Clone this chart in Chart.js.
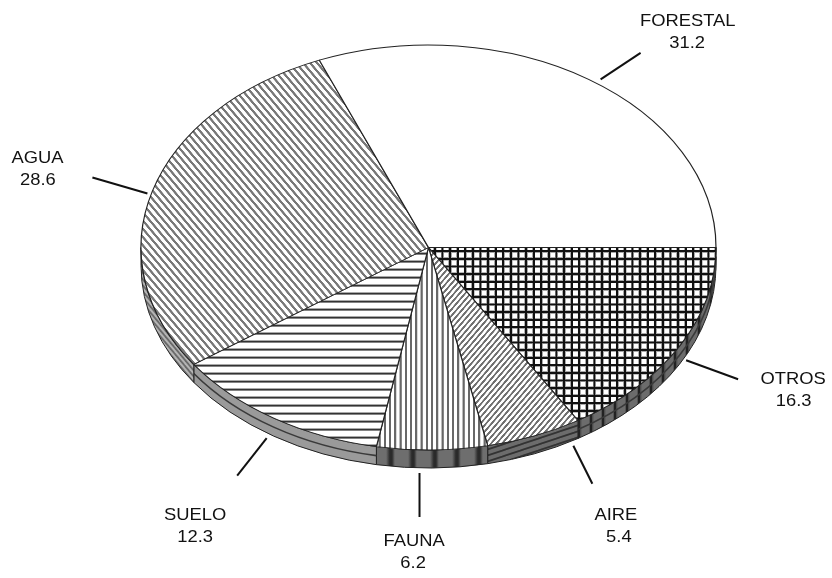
<!DOCTYPE html>
<html>
<head>
<meta charset="utf-8">
<style>html,body{margin:0;padding:0;background:#fff}canvas{display:block}</style>
<script src="https://cdn.jsdelivr.net/npm/chart.js@4"></script>
</head>
<body>
<canvas id="c" width="832" height="578"></canvas>
<script>
const categories = ['OTROS', 'AIRE', 'FAUNA', 'SUELO', 'AGUA', 'FORESTAL'];
const shares = [16.3, 5.4, 6.2, 12.3, 28.6, 31.2];

// Tilted-pie projection
const RX = 287.5, RY = 202.5, FACE_Y = 247.5, DEPTH = 18, K = RY / RX, CHART_Y = 289;

function tile(w, h, draw, m) {
  const t = document.createElement('canvas'); t.width = w; t.height = h;
  const g = t.getContext('2d'); draw(g, w, h);
  const p = g.createPattern(t, 'repeat');
  if (m) p.setTransform(m);
  return p;
}
function diag(g, w, h, col, lw, dir) {
  g.strokeStyle = col; g.lineWidth = lw;
  for (let i = -1; i <= 1; i++) {
    g.beginPath();
    if (dir > 0) { g.moveTo(i * w - w * 0.1, h * 1.1); g.lineTo(i * w + w * 1.1, -h * 0.1); }
    else { g.moveTo(i * w - w * 0.1, -h * 0.1); g.lineTo(i * w + w * 1.1, h * 1.1); }
    g.stroke();
  }
}
const faceFills = [
  tile(32, 32, (g) => {
    g.fillStyle = '#fff'; g.fillRect(0, 0, 32, 32);
    g.fillStyle = '#a8a8a8'; g.fillRect(0, 0, 14, 32); g.fillRect(0, 0, 32, 14);
    g.fillStyle = '#111'; g.fillRect(3, 0, 8, 32); g.fillRect(0, 3, 32, 8);
    g.fillStyle = '#fff'; g.fillRect(16, 16, 14, 14);
  }, new DOMMatrix().scale(7.6 / 32, 7.6 / 32 / K).translate(0, 2)),
  tile(24, 28, (g, w, h) => {
    g.fillStyle = '#fff'; g.fillRect(0, 0, w, h); diag(g, w, h, '#707070', 8, 1);
  }, new DOMMatrix().scale(0.23, 0.23 / K)),
  tile(21, 4, (g, w, h) => {
    g.fillStyle = '#fff'; g.fillRect(0, 0, w, h);
    g.fillStyle = '#686868'; g.fillRect(2, 0, 8.5, h);
  }, new DOMMatrix().scale(0.25, 1 / K)),
  tile(4, 32, (g, w, h) => {
    g.fillStyle = '#fff'; g.fillRect(0, 0, w, h);
    g.fillStyle = '#aaa'; g.fillRect(0, 0, w, 13);
    g.fillStyle = '#333'; g.fillRect(0, 3, w, 7);
  }, new DOMMatrix().scale(1, 0.25 / K)),
  tile(28, 33, (g, w, h) => {
    g.fillStyle = '#fff'; g.fillRect(0, 0, w, h); diag(g, w, h, '#787878', 9, -1);
  }, new DOMMatrix().scale(0.25, 0.25 / K)),
  '#ffffff'
];
const sideFills = [
  tile(12, 4, (g, w, h) => {
    g.fillStyle = '#6c6c6c'; g.fillRect(0, 0, w, h);
    g.fillStyle = '#222'; g.fillRect(2, 0, 2.5, h);
    g.fillStyle = '#555'; g.fillRect(1, 0, 1, h); g.fillRect(4.5, 0, 1, h);
  }),
  tile(18, 6, (g, w, h) => {
    g.fillStyle = '#6c6c6c'; g.fillRect(0, 0, w, h); diag(g, w, h, '#333', 1.8, 1);
  }),
  tile(22.5, 4, (g, w, h) => {
    const l = g.createLinearGradient(0, 0, 22, 0);
    l.addColorStop(0, '#6e6e6e'); l.addColorStop(0.55, '#6e6e6e'); l.addColorStop(0.72, '#2a2a2a');
    l.addColorStop(0.82, '#2a2a2a'); l.addColorStop(0.95, '#6e6e6e'); l.addColorStop(1, '#6e6e6e');
    g.fillStyle = l; g.fillRect(0, 0, w, h);
  }),
  '#9a9a9a',
  tile(5, 6, (g, w, h) => {
    g.fillStyle = '#b4b4b4'; g.fillRect(0, 0, w, h); diag(g, w, h, '#6a6a6a', 1.8, -1);
  }),
  '#ffffff'
];
const sideCurve = [true, false, false, true, false, false];

// Label placement relative to each slice's rim point at its mid-angle
const leaderStart = [[7, 13.5], [39, 10], [-12.6, 23], [-7, 20], [-5, 2.5], [12, 0]];
const leaderEnd = [[59, 32.5], [58, 48], [-12.6, 67], [-36.5, 57.5], [-60, -13.5], [52, -26.5]];
const nameAt = [[114, 37.5], [81.5, 84.5], [-18, 96.5], [-78.5, 102], [-115, -28], [99.2, -53.5]];
const valueAt = [[114.5, 59.5], [84.5, 106.2], [-19, 118.5], [-78.5, 124], [-114.5, -5.7], [98.5, -31]];

function rimPoint(el) {
  const mid = (el.startAngle + el.endAngle) / 2;
  return { x: el.x + el.outerRadius * Math.cos(mid), y: FACE_Y + el.outerRadius * K * Math.sin(mid) };
}
function stretched(ctx, text, x, y) {
  ctx.save(); ctx.translate(x, y); ctx.scale(1.08, 1); ctx.fillText(text, 0, 0); ctx.restore();
}

const tiltPlugin = {
  id: 'tilt',
  beforeDatasetsDraw(chart) {
    const ctx = chart.ctx, arcs = chart.getDatasetMeta(0).data;
    ctx.save();
    arcs.forEach((el, i) => {
      const a0 = Math.max(el.startAngle, 0), a1 = Math.min(el.endAngle, Math.PI);
      if (a1 <= a0) return;
      const rx = el.outerRadius, ry = el.outerRadius * K;
      ctx.beginPath();
      ctx.ellipse(el.x, FACE_Y, rx, ry, 0, a0, a1);
      ctx.ellipse(el.x, FACE_Y + DEPTH, rx, ry, 0, a1, a0, true);
      ctx.closePath();
      ctx.fillStyle = sideFills[i]; ctx.fill();
      ctx.strokeStyle = '#222'; ctx.lineWidth = 1; ctx.stroke();
      if (sideCurve[i]) {
        ctx.beginPath();
        ctx.ellipse(el.x, FACE_Y + DEPTH / 2, rx, ry, 0, a0, a1);
        ctx.lineWidth = 1.6; ctx.strokeStyle = '#3a3a3a'; ctx.stroke();
      }
    });
    ctx.restore();
    ctx.save();
    ctx.translate(0, FACE_Y); ctx.scale(1, K); ctx.translate(0, -CHART_Y);
  },
  afterDatasetsDraw(chart) {
    const ctx = chart.ctx, arcs = chart.getDatasetMeta(0).data;
    ctx.restore();
    ctx.save();
    ctx.fillStyle = '#111'; ctx.strokeStyle = '#111';
    ctx.font = '17px "Liberation Sans", Arial, sans-serif';
    ctx.textAlign = 'center'; ctx.textBaseline = 'alphabetic';
    arcs.forEach((el, i) => {
      const p = rimPoint(el);
      ctx.beginPath();
      ctx.moveTo(p.x + leaderStart[i][0], p.y + leaderStart[i][1]);
      ctx.lineTo(p.x + leaderEnd[i][0], p.y + leaderEnd[i][1]);
      ctx.lineWidth = 2; ctx.stroke();
      stretched(ctx, categories[i], p.x + nameAt[i][0], p.y + nameAt[i][1]);
      stretched(ctx, String(shares[i]), p.x + valueAt[i][0], p.y + valueAt[i][1]);
    });
    ctx.restore();
  }
};

new Chart(document.getElementById('c'), {
  type: 'pie',
  data: {
    labels: categories,
    datasets: [{
      data: shares,
      backgroundColor: faceFills,
      borderColor: '#222',
      borderWidth: 1.2,
      radius: RX
    }]
  },
  options: {
    responsive: false,
    animation: false,
    rotation: 90,
    layout: { padding: { left: 25 } },
    plugins: { legend: { display: false }, tooltip: { enabled: false } }
  },
  plugins: [tiltPlugin]
});
</script>
</body>
</html>
